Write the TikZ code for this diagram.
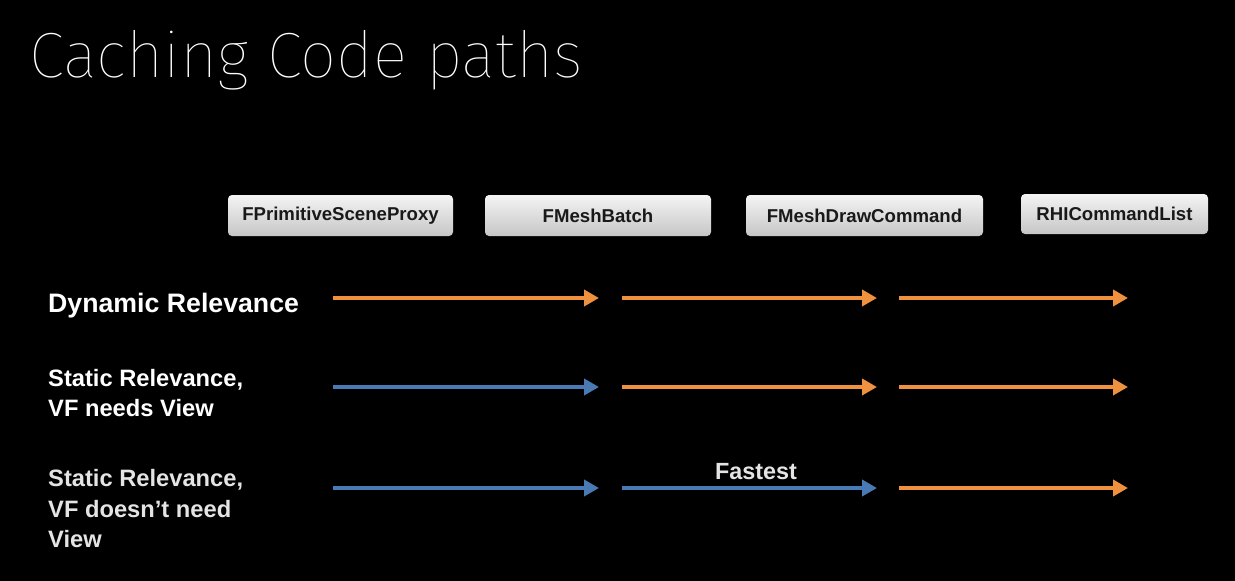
\documentclass[tikz,border=0pt]{standalone}
\usepackage{fontspec}
\setmainfont{Liberation Sans}
\newfontfamily\thinfont{Fira Sans Thin}
\usetikzlibrary{arrows.meta}
\definecolor{arrorange}{HTML}{F0913F}
\definecolor{arrblue}{HTML}{4A7AB5}
\definecolor{boxtop}{HTML}{F4F4F4}
\definecolor{boxbot}{HTML}{C6C6C6}
\definecolor{greytext}{HTML}{E4E4E4}
\tikzset{
  classbox/.style={rounded corners=4pt, top color=boxtop, bottom color=boxbot, draw=none,
    inner sep=0pt, font=\fontsize{18.6}{20}\selectfont\bfseries, text=black!90},
  flow/.style={line width=4pt, -{Triangle[length=15pt,width=16pt]}, shorten >=0pt},
  orangeflow/.style={flow, draw=arrorange},
  blueflow/.style={flow, draw=arrblue},
  rowlabel/.style={anchor=west, align=left, inner sep=0pt, text=white, font=\fontsize{23.7}{30.5}\selectfont\bfseries},
}
\begin{document}
\begin{tikzpicture}[x=1pt,y=-1pt]
\fill[black] (0,0) rectangle (1235,581);
\useasboundingbox (0,0) rectangle (1235,581);

\node[anchor=base west, inner sep=0pt, text=white, font=\thinfont\fontsize{64}{64}\selectfont] (title) at (29,77) {Caching Code paths};

\node[classbox, minimum width=225pt, minimum height=41pt] (fpsp) at (340.5,215.5) {\raisebox{-1pt}{FPrimitiveSceneProxy}};
\node[classbox, minimum width=226pt, minimum height=41pt] (fmb) at (598,215.5) {\raisebox{-1pt}{FMeshBatch}};
\node[classbox, minimum width=237pt, minimum height=41pt] (fmdc) at (864.5,215.5) {\raisebox{-1pt}{FMeshDrawCommand}};
\node[classbox, minimum width=187pt, minimum height=40pt] (rhi) at (1114.5,214) {\raisebox{-1pt}{RHICommandList}};

\node[rowlabel, font=\fontsize{26.7}{30}\selectfont\bfseries] (dyn) at (48,306) {Dynamic Relevance};
\node[rowlabel] (stat1) at (48,393) {Static Relevance,\\VF needs View};
\node[rowlabel, text=greytext] (stat2) at (48,509) {Static Relevance,\\VF doesn’t need\\View};

\foreach \r/\y in {1/298,2/387,3/488}{
  \coordinate (a\r) at (333,\y);
  \coordinate (b\r) at (599,\y);
  \coordinate (c\r) at (622,\y);
  \coordinate (d\r) at (877,\y);
  \coordinate (e\r) at (899,\y);
  \coordinate (f\r) at (1128,\y);
}
\draw[orangeflow] (a1) -- (b1);
\draw[orangeflow] (c1) -- (d1);
\draw[orangeflow] (e1) -- (f1);
\draw[blueflow] (a2) -- (b2);
\draw[orangeflow] (c2) -- (d2);
\draw[orangeflow] (e2) -- (f2);
\draw[blueflow] (a3) -- (b3);
\draw[blueflow] (c3) -- (d3);
\draw[orangeflow] (e3) -- (f3);

\node[anchor=base, inner sep=0pt, text=greytext, font=\fontsize{23.4}{26}\selectfont\bfseries] (fast) at (756,479) {Fastest};
\end{tikzpicture}
\end{document}
